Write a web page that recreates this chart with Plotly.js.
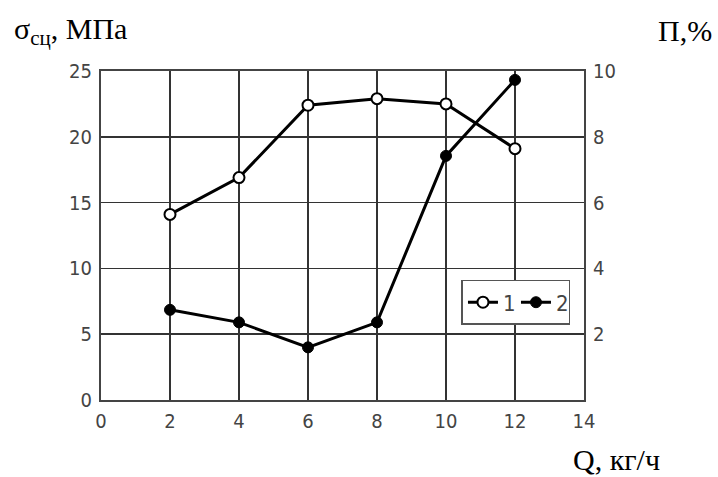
<!DOCTYPE html>
<html><head><meta charset="utf-8">
<script src="https://cdn.plot.ly/plotly-3.0.1.min.js"></script>
<style>html,body{margin:0;padding:0;background:#fff;}#c{width:718px;height:477px;}</style>
</head><body><div id="c"></div>
<script>
const Q = [2, 4, 6, 8, 10, 12];
const sigma = [14.1, 16.9, 22.4, 22.9, 22.5, 19.1];   // series 1, MPa (left axis)
const porosity = [2.74, 2.36, 1.6, 2.36, 7.42, 9.73];  // series 2, % (right axis)
const seriesNames = ['1', '2'];
const xTicks = [0, 2, 4, 6, 8, 10, 12, 14];
const yLeftTicks = [0, 5, 10, 15, 20, 25];
const yRightTicks = [2, 4, 6, 8, 10];

const tickFont = {family: 'DejaVu Sans Condensed, Liberation Sans Narrow, DejaVu Sans, sans-serif', size: 20, color: '#444', weight: 300};
const serif = 'Liberation Serif, Times New Roman, serif';
const traces = [
  {x: Q, y: sigma, name: seriesNames[0], type: 'scatter', mode: 'lines+markers',
   line: {color: '#000', width: 3},
   marker: {symbol: 'circle', size: 11, color: '#fff', line: {color: '#000', width: 2}}},
  {x: Q, y: porosity, name: seriesNames[1], type: 'scatter', mode: 'lines+markers', yaxis: 'y2',
   line: {color: '#000', width: 3},
   marker: {symbol: 'circle', size: 11, color: '#000', line: {color: '#000', width: 1}}}
];
const layout = {
  width: 718, height: 477,
  margin: {l: 101, r: 134, t: 71, b: 77},
  paper_bgcolor: '#fff', plot_bgcolor: '#fff',
  showlegend: true,
  legend: {orientation: 'h', x: 0.972, xanchor: 'right', y: 0.365, yanchor: 'top',
           bgcolor: '#fff', bordercolor: '#555', borderwidth: 1.5,
           font: {family: tickFont.family, size: 22, color: '#444', weight: 300},
           itemwidth: 30, entrywidth: 8, tracegroupgap: 0},
  xaxis: {range: [0, 14], tickvals: xTicks, ticktext: xTicks.map(String),
          showgrid: true, gridcolor: '#333', gridwidth: 1.5, zeroline: false,
          showline: true, linecolor: '#444', linewidth: 2, mirror: true,
          ticks: '', tickfont: tickFont, ticklabelstandoff: 2},
  yaxis: {range: [0, 25], tickvals: yLeftTicks, ticktext: yLeftTicks.map(String),
          showgrid: true, gridcolor: '#333', gridwidth: 1.5, zeroline: false,
          showline: true, linecolor: '#444', linewidth: 2, mirror: true,
          ticks: '', tickfont: tickFont, ticklabelstandoff: 3},
  yaxis2: {range: [0, 10], overlaying: 'y', side: 'right', tickvals: yRightTicks,
           ticktext: yRightTicks.map(String), showgrid: false, zeroline: false,
           showline: false, ticks: '', tickfont: tickFont, ticklabelstandoff: 8},
  annotations: [
    {xref: 'paper', yref: 'paper', x: -0.185, y: 1.122, xanchor: 'left', yanchor: 'middle',
     text: 'σ<sub>сц</sub>, МПа', showarrow: false, font: {family: serif, size: 30, color: '#000'}},
    {xref: 'paper', yref: 'paper', x: 1.27, y: 1.122, xanchor: 'right', yanchor: 'middle',
     text: 'П,%', showarrow: false, font: {family: serif, size: 30, color: '#000'}},
    {xref: 'paper', yref: 'paper', x: 1.068, y: -0.182, xanchor: 'center', yanchor: 'middle',
     text: 'Q, кг/ч', showarrow: false, font: {family: serif, size: 30, color: '#000'}}
  ]
};
Plotly.newPlot('c', traces, layout, {displayModeBar: false, staticPlot: true});
</script></body></html>
